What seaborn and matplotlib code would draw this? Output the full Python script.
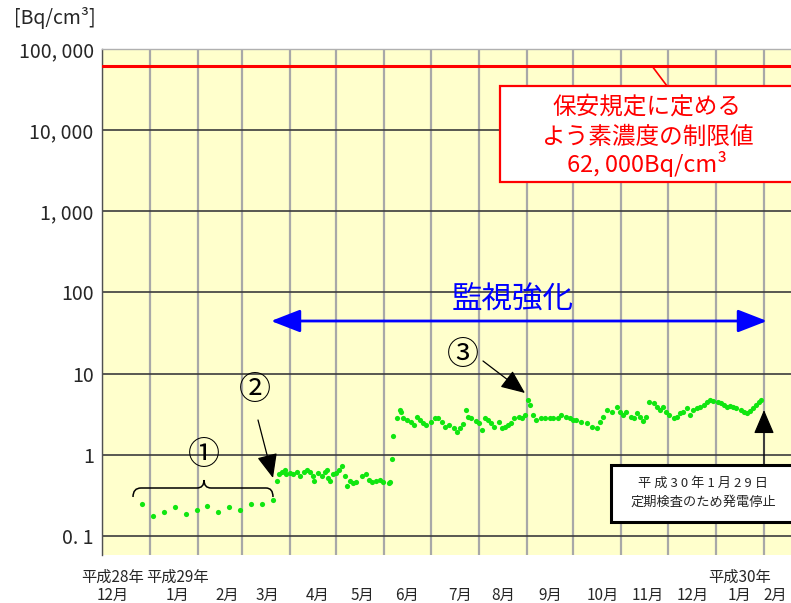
import numpy as np
import pandas as pd
import matplotlib
matplotlib.use("Agg")
import matplotlib.pyplot as plt
import matplotlib.dates as mdates
from matplotlib.ticker import FixedLocator, FixedFormatter, LogLocator, NullFormatter
from matplotlib.path import Path
from matplotlib.patches import PathPatch, Rectangle
from matplotlib.transforms import Affine2D, blended_transform_factory
import seaborn as sns

# ---- data (days counted from 2017-01-01, values in Bq/cm3) ----
weekly_days = [-5, 2, 9, 16, 23, 30, 37, 44, 51, 58, 65, 72, 79]
weekly_vals = [0.25, 0.175, 0.196, 0.228, 0.187, 0.206, 0.235, 0.196, 0.228, 0.207, 0.248, 0.248, 0.275]

spring_days = [82, 83, 85, 87, 88, 90, 92, 95, 97, 99, 101, 103, 105, 106, 108, 111, 113, 114,
               115, 116, 118, 120, 122, 124, 126, 127, 129, 131, 133, 137, 139, 141, 143, 146,
               148, 150, 154, 155, 156, 157]
spring_vals = [0.47, 0.57, 0.62, 0.65, 0.57, 0.60, 0.57, 0.62, 0.54, 0.62, 0.65, 0.61, 0.54, 0.47,
               0.60, 0.54, 0.62, 0.65, 0.52, 0.47, 0.57, 0.60, 0.65, 0.72, 0.54, 0.41, 0.47, 0.45,
               0.46, 0.54, 0.57, 0.49, 0.46, 0.47, 0.49, 0.46, 0.45, 0.46, 0.89, 1.72]

later_days = [159, 161, 162, 163, 166, 168, 170, 172, 174, 176, 178, 181, 184, 186, 188, 190, 193,
              196, 198, 200, 202, 204, 205, 207, 210, 212, 214, 216, 218, 220, 222, 225, 227, 229,
              231, 233, 235, 238, 240, 242, 244, 245, 247, 249, 252, 255, 258, 260, 263, 265, 268,
              271, 273, 275, 278, 282, 285, 288, 290, 292, 295, 298, 301, 303, 305, 307, 310, 312,
              314, 316, 318, 320, 322, 325, 327, 329, 331, 333, 335, 338, 340, 342, 344, 346, 348,
              350, 353, 355, 357, 359, 361, 363, 366, 368, 370, 372, 374, 376, 378, 381, 383, 385,
              387, 389, 391, 393, 394]
later_vals = [2.82, 3.57, 3.40, 2.87, 2.69, 2.52, 2.33, 2.95, 2.69, 2.45, 2.33, 2.56, 2.82, 2.82,
              2.56, 2.22, 2.33, 2.13, 1.93, 2.16, 2.38, 3.57, 2.95, 2.82, 2.61, 2.45, 2.03, 2.82,
              2.69, 2.45, 2.22, 2.56, 2.13, 2.22, 2.33, 2.45, 2.87, 2.95, 2.82, 3.10, 4.73, 4.11,
              3.10, 2.69, 2.82, 2.82, 2.82, 2.82, 2.87, 3.10, 2.95, 2.82, 2.69, 2.69, 2.56, 2.45,
              2.22, 2.13, 2.56, 2.95, 3.57, 3.40, 3.91, 3.40, 3.10, 3.40, 2.95, 2.82, 3.25, 2.95,
              2.61, 2.95, 4.51, 4.31, 3.91, 3.57, 3.91, 3.40, 3.10, 2.82, 2.95, 3.25, 3.40, 3.74,
              3.10, 3.57, 3.74, 3.91, 4.11, 4.51, 4.73, 4.60, 4.51, 4.31, 4.11, 3.91, 4.03, 3.91,
              3.74, 3.57, 3.34, 3.25, 3.46, 3.74, 4.11, 4.51, 4.73]

limit_value = 62000

ytick_vals = [0.1, 1, 10, 100, 1000, 10000, 100000]
ytick_labels = ["0. 1", "1", "10", "100", "1, 000", "10, 000", "100, 000"]

month_label_dates = ["2016-12-08", "2017-01-19", "2017-02-20", "2017-03-18", "2017-04-19",
                     "2017-05-18", "2017-06-16", "2017-07-20", "2017-08-17", "2017-09-16",
                     "2017-10-20", "2017-11-18", "2017-12-17", "2018-01-16", "2018-02-08"]
month_labels = ["12月", "1月", "2月", "3月", "4月", "5月", "6月", "7月", "8月", "9月",
                "10月", "11月", "12月", "1月", "2月"]
year_label_dates = ["2016-12-08", "2017-01-19", "2018-01-16"]
year_labels = ["平成28年", "平成29年", "平成30年"]

base = pd.Timestamp("2017-01-01")
df = pd.DataFrame({
    "day": weekly_days + spring_days + later_days,
    "value": weekly_vals + spring_vals + later_vals,
})
df["date"] = base + pd.to_timedelta(df["day"], unit="D")

# ---- style ----
sns.set_style("white")
plt.rcParams['font.family'] = ['Noto Sans CJK JP', 'DejaVu Sans']

W, H = 791, 603
fig = plt.figure(figsize=(W / 100, H / 100), dpi=100)
ax = fig.add_axes([102 / W, 1 - 555 / H, 1 - 102 / W, (555 - 49) / H])
ax.set_facecolor('#ffffcc')

sns.scatterplot(data=df, x="date", y="value", ax=ax, color="#10e610", s=14,
                linewidth=0, legend=False, zorder=3)

ax.set_yscale('log')
ax.set_ylim(0.058, 1e5)
ax.set_xlim(base - pd.Timedelta(days=31), base + pd.Timedelta(days=413.4))

ax.axhline(limit_value, color='#ff0000', lw=2.2, zorder=4)

# y axis
ax.yaxis.set_major_locator(FixedLocator(ytick_vals))
ax.yaxis.set_major_formatter(FixedFormatter(ytick_labels))
ax.yaxis.set_minor_locator(LogLocator(base=10, subs=np.arange(2, 10)))
ax.yaxis.set_minor_formatter(NullFormatter())
ax.tick_params(axis='y', which='major', direction='in', length=5, color='#404040',
               labelsize=14, pad=6)
ax.tick_params(axis='y', which='minor', direction='in', length=3, color='#404040')

# x axis: month starts as gridlines, labels mid-month
ax.xaxis.set_major_locator(mdates.MonthLocator())
ax.xaxis.set_major_formatter(NullFormatter())
ax.set_xticks(pd.to_datetime(month_label_dates), minor=True)
ax.set_xticklabels(month_labels, minor=True)
ax.tick_params(axis='x', which='both', length=0)
ax.tick_params(axis='x', which='minor', labelsize=11, pad=23)

ax.grid(axis='x', which='major', color='#a8a8a8', lw=1.6)
ax.grid(axis='y', which='major', color='#3c3c3c', lw=1.2)
ax.set_axisbelow(True)
ax.set_xlabel('')
ax.set_ylabel('')
# top decade sits on the plot edge: no dark gridline there
ax.yaxis.get_major_ticks()[-1].gridline.set_visible(False)

for side in ['right', 'bottom']:
    ax.spines[side].set_visible(False)
ax.spines['top'].set_color('#b0b0b0')
ax.spines['top'].set_linewidth(1.0)
ax.spines['left'].set_color('#505050')
ax.spines['left'].set_linewidth(1.0)

trans_year = blended_transform_factory(ax.transData, fig.transFigure)
for d, lab in zip(year_label_dates, year_labels):
    ax.text(pd.Timestamp(d), 1 - 577 / H, lab, transform=trans_year, ha='center',
            va='center', fontsize=11, clip_on=False)

# ---- annotations in figure pixel coordinates ----
def fp(x, y):
    return (x / W, 1 - y / H)

pix = Affine2D().scale(1 / W, -1 / H).translate(0, 1) + fig.transFigure

fig.text(*fp(55, 18), "[Bq/cm³]", ha='center', va='center', fontsize=14)

# regulation limit box
fig.add_artist(Rectangle(fp(500, 182), 300 / W, 96 / H, transform=fig.transFigure,
                         fc='white', ec='#ff0000', lw=1.6, zorder=5))
fig.add_artist(plt.Line2D([652 / W, 667 / W], [1 - 66 / H, 1 - 86 / H],
                          transform=fig.transFigure, color='#ff0000', lw=1.2, zorder=5))
for y, s in [(107, "保安規定に定める"), (137, "よう素濃度の制限値"), (164, "62, 000Bq/cm³")]:
    fig.text(*fp(647, y), s, ha='center', va='center', fontsize=17, color='#ff0000', zorder=6)

# monitoring period arrow
ax.annotate('', xy=fp(767, 321), xytext=fp(271, 321), xycoords='figure fraction',
            textcoords='figure fraction', annotation_clip=False,
            arrowprops=dict(arrowstyle='<|-|>,head_length=0.9,head_width=0.35',
                            mutation_scale=20, color='#0000ff', lw=2, shrinkA=0, shrinkB=0))
fig.text(*fp(513, 300), "監視強化", ha='center', va='center', fontsize=22, color='#0000ff')

# circled markers
for (x, y), s in [((204, 455), "①"), ((255, 390), "②"), ((463, 355), "③")]:
    fig.text(*fp(x, y), s, ha='center', va='center', fontsize=23, color='black')

black_arrow = dict(arrowstyle='-|>,head_length=0.75,head_width=0.32', mutation_scale=20,
                   color='black', lw=0.9, shrinkA=0, shrinkB=0)
for start, end in [((258, 420), (273, 478)), ((483, 361), (525, 393)), ((764, 466), (764, 410))]:
    ax.annotate('', xy=fp(*end), xytext=fp(*start), xycoords='figure fraction',
                textcoords='figure fraction', annotation_clip=False, arrowprops=black_arrow)

# brace over the weekly points
brace = Path(
    [(133, 497), (133, 488), (141, 488), (197, 488), (204, 488), (204, 480),
     (204, 488), (211, 488), (266, 488), (273, 488), (273, 497)],
    [Path.MOVETO, Path.CURVE3, Path.CURVE3, Path.LINETO, Path.CURVE3, Path.CURVE3,
     Path.CURVE3, Path.CURVE3, Path.LINETO, Path.CURVE3, Path.CURVE3])
fig.add_artist(PathPatch(brace, transform=pix, fc='none', ec='black', lw=1.1))

# shutdown note box
fig.add_artist(Rectangle(fp(611, 522), 200 / W, 57 / H, transform=fig.transFigure,
                         fc='white', ec='black', lw=2.2, zorder=5))
fig.text(*fp(703, 483), "平 成 3 0 年 1 月 2 9 日", ha='center', va='center',
         fontsize=9.5, zorder=6)
fig.text(*fp(703, 502), "定期検査のため発電停止", ha='center', va='center',
         fontsize=9.5, zorder=6)

fig.savefig("out.png", dpi=100)
